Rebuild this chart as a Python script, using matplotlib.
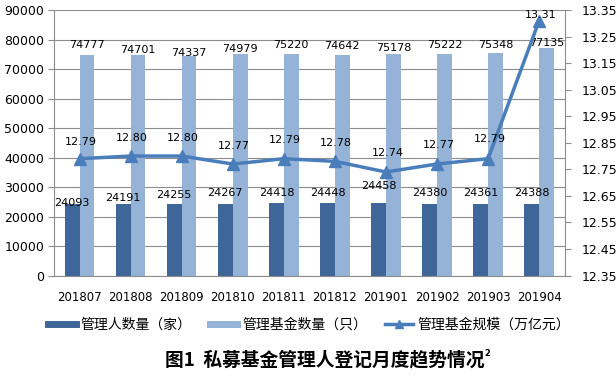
import matplotlib.pyplot as plt
from matplotlib.lines import Line2D
import numpy as np

plt.rcParams['font.family'] = ['DejaVu Sans', 'Noto Sans CJK SC']

months = ['201807', '201808', '201809', '201810', '201811',
          '201812', '201901', '201902', '201903', '201904']
managers = [24093, 24191, 24255, 24267, 24418, 24448, 24458, 24380, 24361, 24388]
funds = [74777, 74701, 74337, 74979, 75220, 74642, 75178, 75222, 75348, 77135]
scale = [12.79, 12.80, 12.80, 12.77, 12.79, 12.78, 12.74, 12.77, 12.79, 13.31]

# label offsets (points) as placed in the original
mgr_dy = [1, 4.5, 6.5, 8, 7.5, 7.5, 12.5, 7.5, 7.5, 7.5]
fund_dy = [7, 3.7, 2.3, 3.8, 6.2, 6.7, 4.1, 6.2, 5.9, 3.6]
scale_dy = [12, 13, 13, 13, 13.5, 13, 13.5, 13.5, 14, 4]

c_dark = '#3f6699'
c_light = '#95b3d7'
c_line = '#4a7ebb'
c_grid = '#8c8c8c'
cjk = ['Noto Sans CJK SC', 'DejaVu Sans']

fig = plt.figure(figsize=(6.16, 3.79), dpi=100)
ax = fig.add_axes([0.0877, 0.273, 0.829, 0.7006])
ax2 = ax.twinx()

x = np.arange(len(months))
w = 0.29
ax.bar(x - w / 2, managers, w, color=c_dark, zorder=2)
ax.bar(x + w / 2, funds, w, color=c_light, zorder=2)

for i in range(len(x)):
    ax.annotate(str(managers[i]), (x[i] - w / 2, managers[i]), xytext=(0, mgr_dy[i]),
                textcoords='offset points', ha='center', va='center', fontsize=8)
    ax.annotate(str(funds[i]), (x[i] + w / 2, funds[i]), xytext=(0, fund_dy[i]),
                textcoords='offset points', ha='center', va='center', fontsize=8)

ax.set_ylim(0, 90000)
ax.set_yticks(range(0, 90001, 10000))
ax.set_xlim(-0.5, len(x) - 0.5)
ax.set_xticks(x)
ax.set_xticklabels(months, fontsize=8.5)
ax.tick_params(axis='x', length=0, pad=11)
ax.tick_params(axis='y', labelsize=9, length=4, color=c_grid, pad=3)
ax.yaxis.grid(True, color=c_grid, linewidth=0.8, zorder=0)
ax.set_axisbelow(True)
for s in ['top', 'right']:
    ax.spines[s].set_visible(False)
ax.spines['left'].set_color(c_grid)
ax.spines['bottom'].set_color(c_grid)

ax2.plot(x, scale, color=c_line, linewidth=2.5, marker='^', markersize=8, zorder=3)
for i in range(len(x)):
    ax2.annotate(f'{scale[i]:.2f}', (x[i], scale[i]), xytext=(1, scale_dy[i]),
                 textcoords='offset points', ha='center', va='center', fontsize=8)
ax2.set_ylim(12.35, 13.35)
ax2.set_yticks(np.arange(12.35, 13.36, 0.1))
ax2.set_yticklabels([f'{v:.2f}' for v in np.arange(12.35, 13.36, 0.1)])
ax2.tick_params(axis='y', labelsize=9, length=4, color=c_grid, pad=8)
for s in ['top', 'left', 'bottom']:
    ax2.spines[s].set_visible(False)
ax2.spines['right'].set_color(c_grid)

handles = [Line2D([], [], color=c_dark, linewidth=5),
           Line2D([], [], color=c_light, linewidth=5),
           Line2D([], [], color=c_line, linewidth=2.5, marker='^', markersize=6)]
labels = ['管理人数量（家）', '管理基金数量（只）', '管理基金规模（万亿元）']
fig.legend(handles, labels, loc='center', bbox_to_anchor=(0.502, 0.1425), ncol=3,
           frameon=False, prop={'family': cjk, 'size': 10}, handlelength=2.0,
           handletextpad=0.35, columnspacing=1.3)

fig.text(0.528, 0.05, '图1  私募基金管理人登记月度趋势情况', ha='center', va='center',
         fontsize=13.5, fontweight='bold', family=cjk)
fig.text(0.787, 0.068, '2', ha='left', va='center', fontsize=6, fontweight='bold')

fig.savefig('out.png', dpi=100)
